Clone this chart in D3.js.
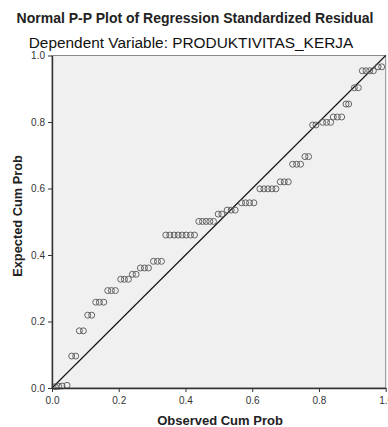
<!DOCTYPE html>
<html>
<head>
<meta charset="utf-8">
<script src="https://cdn.jsdelivr.net/npm/d3@7"></script>
<style>
  body { margin: 0; background: #fff; }
  svg { display: block; font-family: "Liberation Sans", Arial, sans-serif; }
</style>
</head>
<body>
<div id="chart"></div>
<script>
// values
const observedCumProb = [
  0.010, 0.020, 0.030, 0.045,
  0.059, 0.071,
  0.082, 0.094,
  0.107, 0.119,
  0.131, 0.142, 0.155,
  0.167, 0.178, 0.190,
  0.206, 0.217, 0.229,
  0.241, 0.252,
  0.265, 0.277, 0.289,
  0.304, 0.316, 0.328,
  0.341, 0.353, 0.366, 0.378, 0.390, 0.402, 0.415, 0.427,
  0.440, 0.451, 0.462, 0.473, 0.484,
  0.498, 0.509,
  0.525, 0.537, 0.549,
  0.568, 0.580, 0.592, 0.605,
  0.623, 0.635, 0.647, 0.659, 0.671,
  0.684, 0.696, 0.708,
  0.721, 0.733, 0.745,
  0.758, 0.769,
  0.781, 0.791,
  0.811, 0.823, 0.835,
  0.843, 0.855, 0.868,
  0.881, 0.889,
  0.906, 0.918,
  0.930, 0.941, 0.952, 0.963,
  0.977, 0.988
];
const expectedCumProb = [
  0.004, 0.005, 0.006, 0.008,
  0.096, 0.096,
  0.172, 0.172,
  0.219, 0.219,
  0.258, 0.258, 0.258,
  0.293, 0.293, 0.293,
  0.327, 0.327, 0.327,
  0.342, 0.342,
  0.361, 0.361, 0.361,
  0.381, 0.381, 0.381,
  0.460, 0.460, 0.460, 0.460, 0.460, 0.460, 0.460, 0.460,
  0.501, 0.501, 0.501, 0.501, 0.501,
  0.523, 0.523,
  0.535, 0.535, 0.535,
  0.557, 0.557, 0.557, 0.557,
  0.599, 0.599, 0.599, 0.599, 0.599,
  0.620, 0.620, 0.620,
  0.673, 0.673, 0.673,
  0.696, 0.696,
  0.791, 0.791,
  0.799, 0.799, 0.799,
  0.815, 0.815, 0.815,
  0.854, 0.854,
  0.903, 0.903,
  0.954, 0.954, 0.954, 0.954,
  0.966, 0.966
];
const tickValues = [0, 0.2, 0.4, 0.6, 0.8, 1.0];
const titleText = 'Normal P-P Plot of Regression Standardized Residual';
const subtitleText = 'Dependent Variable: PRODUKTIVITAS_KERJA';

const width = 388, height = 427;
const margin = { top: 55.5, right: 2.3, bottom: 39, left: 52 };

const svg = d3.select('#chart').append('svg').attr('width', width).attr('height', height);

const xScale = d3.scaleLinear().domain([0, 1]).range([margin.left, width - margin.right]);
const yScale = d3.scaleLinear().domain([0, 1]).range([height - margin.bottom, margin.top]);

// plot background + frame
svg.append('rect')
  .attr('x', xScale(0)).attr('y', yScale(1))
  .attr('width', xScale(1) - xScale(0)).attr('height', yScale(0) - yScale(1))
  .attr('fill', '#f0f0f0').attr('stroke', '#8a8a8a').attr('stroke-width', 1);

// reference line
svg.append('line')
  .attr('x1', xScale(0)).attr('y1', yScale(0))
  .attr('x2', xScale(1)).attr('y2', yScale(1))
  .attr('stroke', '#111').attr('stroke-width', 1.1);

// points
const points = observedCumProb.map((d, i) => ({ x: d, y: expectedCumProb[i] }));
svg.append('g').selectAll('circle')
  .data(points)
  .enter().append('circle')
  .attr('cx', d => xScale(d.x))
  .attr('cy', d => yScale(d.y))
  .attr('r', 3)
  .attr('fill', 'none')
  .attr('stroke', '#555')
  .attr('stroke-width', 0.9);

// axes
const fmt = d3.format('.1f');
const xAxis = d3.axisBottom(xScale).tickValues(tickValues).tickFormat(fmt).tickSize(4).tickSizeOuter(0);
const yAxis = d3.axisLeft(yScale).tickValues(tickValues).tickFormat(fmt).tickSize(4).tickSizeOuter(0);

const gx = svg.append('g').attr('transform', `translate(0,${yScale(0)})`).call(xAxis);
const gy = svg.append('g').attr('transform', `translate(${xScale(0)},0)`).call(yAxis);
[gx, gy].forEach(g => {
  g.select('.domain').attr('stroke', '#333').attr('stroke-width', 1.4);
  g.selectAll('.tick line').attr('stroke', '#333');
  g.selectAll('.tick text').attr('fill', '#333').style('font-size', '10px').style('font-family', '"Liberation Sans", Arial, sans-serif');
});
gx.selectAll('.tick text').attr('dy', '0.9em');

// titles
svg.append('text').attr('x', 195).attr('y', 23).attr('text-anchor', 'middle')
  .style('font-size', '14px').style('font-weight', 'bold').attr('fill', '#222')
  .text(titleText);
svg.append('text').attr('x', 191).attr('y', 48).attr('text-anchor', 'middle')
  .style('font-size', '15.4px').attr('fill', '#111')
  .text(subtitleText);

svg.append('text').attr('x', 220).attr('y', 425).attr('text-anchor', 'middle')
  .style('font-size', '13px').style('font-weight', 'bold').attr('fill', '#222')
  .text('Observed Cum Prob');
svg.append('text').attr('transform', 'translate(22,216) rotate(-90)').attr('text-anchor', 'middle')
  .style('font-size', '12.8px').style('font-weight', 'bold').attr('fill', '#222')
  .text('Expected Cum Prob');
</script>
</body>
</html>
